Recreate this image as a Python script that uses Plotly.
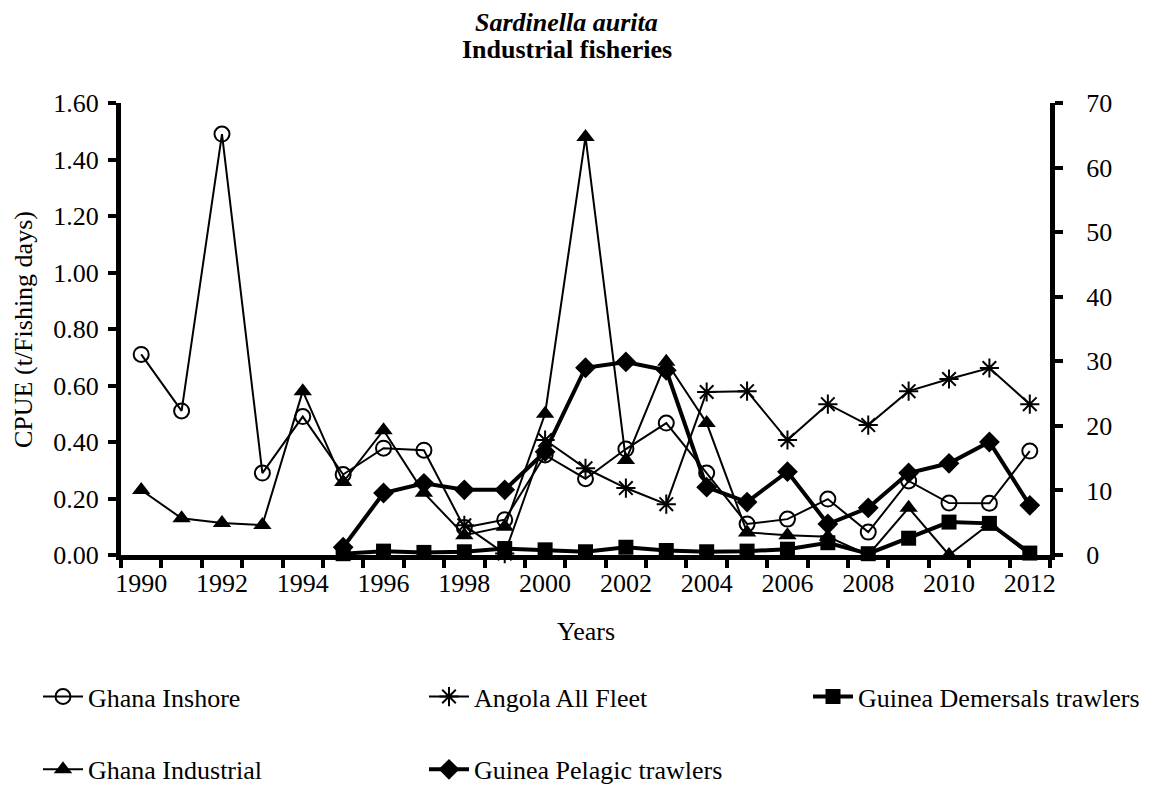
import plotly.graph_objects as go

# Years on the x axis
years = list(range(1990, 2013))

# Left axis, CPUE (t/Fishing days)
ghana_inshore = [0.71, 0.51, 1.49, 0.29, 0.49, 0.285, 0.378, 0.371, 0.097, 0.125, 0.354,
                 0.27, 0.375, 0.467, 0.29, 0.11, 0.127, 0.198, 0.081, 0.262, 0.184, 0.183, 0.368]
ghana_industrial = [0.23, 0.13, 0.113, 0.106, 0.58, 0.258, 0.442, 0.22, 0.07, 0.10, 0.50,
                    1.48, 0.336, 0.684, 0.467, 0.08, 0.07, 0.065, 0.0, 0.167, 0.0, 0.11, 0.0]
angola_years = list(range(1998, 2013))
angola_all = [0.105, 0.005, 0.407, 0.307, 0.237, 0.18, 0.577, 0.58, 0.407, 0.534, 0.46,
              0.58, 0.623, 0.662, 0.534]

# Right axis (Guinea fleets)
guinea_years = list(range(1995, 2013))
guinea_pelagic = [1.2, 9.6, 11.1, 10.1, 10.1, 16.0, 29.0, 29.9, 28.6, 10.5, 8.2, 12.9,
                  4.8, 7.3, 12.7, 14.2, 17.5, 7.7]
guinea_demersal = [0.2, 0.6, 0.4, 0.5, 1.0, 0.8, 0.5, 1.2, 0.7, 0.5, 0.6, 0.9, 1.9, 0.2,
                   2.6, 5.1, 4.9, 0.3]

FONT = "Liberation Serif"
f26 = dict(family=FONT, size=26, color="black")
fig = go.Figure()

# Thin lines on the left axis
fig.add_trace(go.Scatter(x=years, y=ghana_inshore, name="Ghana Inshore", mode="lines+markers",
                         line=dict(color="black", width=2), cliponaxis=False,
                         marker=dict(symbol="circle-open", size=15, color="black", line=dict(width=2)),
                         legend="legend", legendgroup="a"))
fig.add_trace(go.Scatter(x=years, y=ghana_industrial, name="Ghana Industrial", mode="lines+markers",
                         line=dict(color="black", width=2), cliponaxis=False,
                         marker=dict(symbol="triangle-up", size=16, color="black"),
                         legend="legend", legendgroup="b"))
fig.add_trace(go.Scatter(x=angola_years, y=angola_all, name="Angola All Fleet", mode="lines+markers",
                         line=dict(color="black", width=2), cliponaxis=False,
                         marker=dict(symbol="asterisk-open", size=16, color="black", line=dict(width=2)),
                         legend="legend2", legendgroup="c"))

# Thick lines on the right axis
fig.add_trace(go.Scatter(x=guinea_years, y=guinea_pelagic, name="Guinea Pelagic trawlers",
                         mode="lines+markers", yaxis="y2", cliponaxis=False,
                         line=dict(color="black", width=4),
                         marker=dict(symbol="diamond", size=16, color="black"),
                         legend="legend2", legendgroup="d"))
fig.add_trace(go.Scatter(x=guinea_years, y=guinea_demersal, name="Guinea Demersals trawlers",
                         mode="lines+markers", yaxis="y2", cliponaxis=False,
                         line=dict(color="black", width=4),
                         marker=dict(symbol="square", size=15, color="black"),
                         legend="legend3", legendgroup="e"))

leg = dict(xref="container", yref="container", y=0.157, yanchor="top", xanchor="left",
           font=f26, tracegroupgap=36, bgcolor="rgba(0,0,0,0)", itemwidth=40)

fig.update_layout(
    width=1153, height=789,
    margin=dict(l=113, r=111, t=95, b=242, autoexpand=False),
    paper_bgcolor="white", plot_bgcolor="white",
    font=f26,
    annotations=[
        dict(text="<b><i>Sardinella aurita</i></b>", xref="paper", yref="paper",
             x=0.48, y=1.178, xanchor="center", yanchor="middle", showarrow=False, font=f26),
        dict(text="<b>Industrial fisheries</b>", xref="paper", yref="paper",
             x=0.48, y=1.1173, xanchor="center", yanchor="middle", showarrow=False, font=f26),
        dict(text="CPUE (t/Fishing days)", xref="paper", yref="paper", textangle=-90,
             x=-0.1055, y=0.5, xanchor="center", yanchor="middle", showarrow=False, font=f26),
        dict(text="Years", xref="paper", yref="paper",
             x=0.5, y=-0.170, xanchor="center", yanchor="middle", showarrow=False, font=f26),
    ],
    xaxis=dict(range=[1989.5, 2012.5], tickvals=years[::2], ticks="outside", ticklen=1,
               tickcolor="rgba(0,0,0,0)", showline=True, linewidth=5, linecolor="black",
               showgrid=False, zeroline=False, tickfont=f26,
               minor=dict(ticks="outside", tickmode="linear", tick0=1989.5, dtick=1,
                          ticklen=8, tickwidth=4, tickcolor="black")),
    yaxis=dict(range=[0, 1.6], dtick=0.2, tickformat=".2f", ticks="outside", ticklen=8,
               tickwidth=4, tickcolor="black", showline=True, linewidth=5, linecolor="black",
               showgrid=False, zeroline=False, ticklabelstandoff=4, tickfont=f26),
    yaxis2=dict(range=[0, 70], dtick=10, overlaying="y", side="right", ticks="outside",
                ticklen=8, tickwidth=4, tickcolor="black", showline=True, linewidth=5,
                linecolor="black", showgrid=False, zeroline=False, ticklabelstandoff=18,
                tickfont=f26),
    legend=dict(leg, x=30 / 1153),
    legend2=dict(leg, x=416 / 1153),
    legend3=dict(leg, x=800 / 1153),
)

fig.write_html("out.html")
